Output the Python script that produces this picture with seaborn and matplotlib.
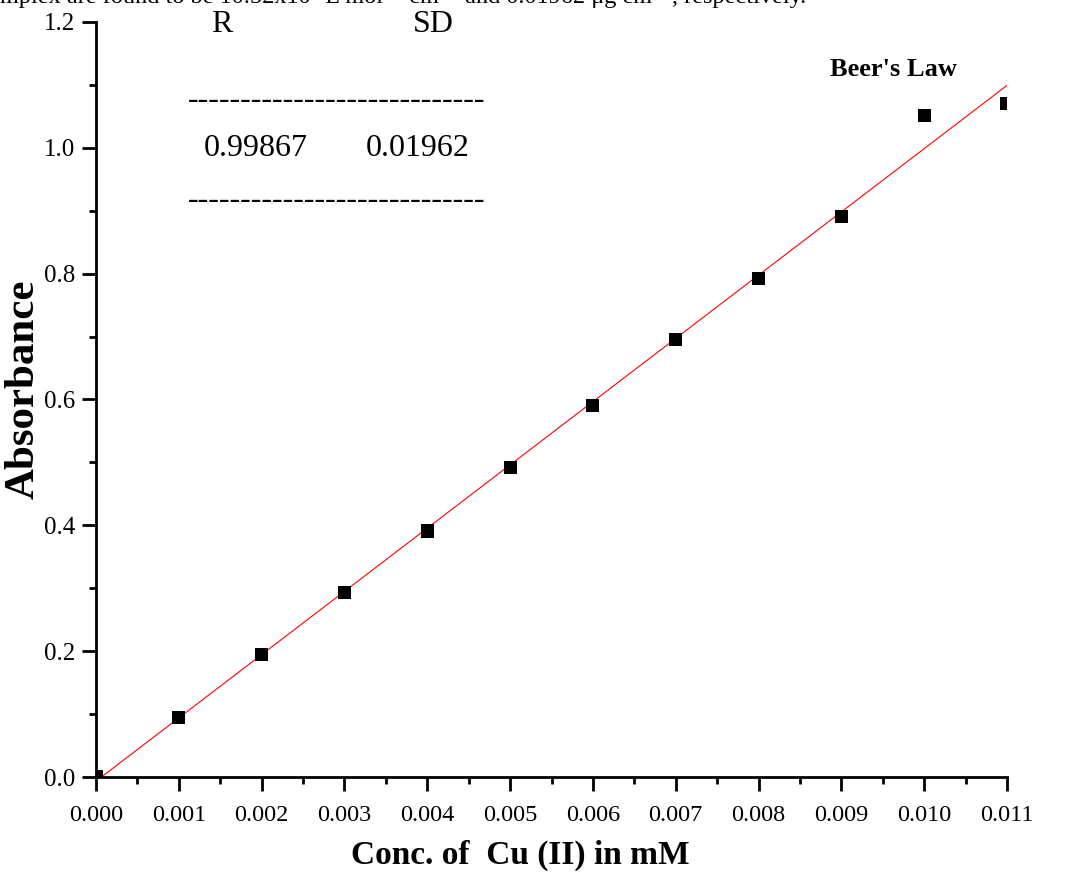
import numpy as np
import pandas as pd
import matplotlib
matplotlib.use("Agg")
import matplotlib.pyplot as plt
import seaborn as sns
from matplotlib.ticker import MultipleLocator, FormatStrFormatter

conc = [0.000, 0.001, 0.002, 0.003, 0.004, 0.005, 0.006, 0.007, 0.008, 0.009, 0.010, 0.011]
absorb = [0.0, 0.095, 0.195, 0.293, 0.391, 0.492, 0.591, 0.695, 0.792, 0.891, 1.051, 1.070]
stat_headers = ["R", "SD"]
stat_values = ["0.99867", "0.01962"]
title_text = "Beer's Law"
x_label = "Conc. of  Cu (II) in mM"
y_label = "Absorbance"
top_text = "mplex are found to be 10.52x10\u2074 L mol\u207b\u00b9 cm\u207b\u00b9 and 0.01962 \u03bcg cm\u207b\u00b2, respectively."

sns.set_style("ticks")
plt.rcParams['font.family'] = ['Liberation Serif', 'DejaVu Serif']
plt.rcParams['text.color'] = 'black'
plt.rcParams['axes.labelcolor'] = 'black'
plt.rcParams['xtick.color'] = 'black'
plt.rcParams['ytick.color'] = 'black'

df = pd.DataFrame({"conc": conc, "abs": absorb})

fig = plt.figure(figsize=(10.66, 8.77), dpi=100)
ax = fig.add_axes([96/1066, 1-777/877, (1007-96)/1066, (777-22)/877])

sns.regplot(data=df, x="conc", y="abs", ax=ax, ci=None, truncate=True,
            marker="s", color="black",
            scatter_kws=dict(s=88, edgecolor="none", alpha=1, zorder=3),
            line_kws=dict(color="red", lw=0.8, zorder=2))

ax.set_xlim(0, 0.011)
ax.set_ylim(0, 1.2)
ax.xaxis.set_major_locator(MultipleLocator(0.001))
ax.xaxis.set_minor_locator(MultipleLocator(0.0005))
ax.yaxis.set_major_locator(MultipleLocator(0.2))
ax.yaxis.set_minor_locator(MultipleLocator(0.1))
ax.xaxis.set_major_formatter(FormatStrFormatter("%.3f"))
ax.yaxis.set_major_formatter(FormatStrFormatter("%.1f"))

for s in ["top", "right"]:
    ax.spines[s].set_visible(False)
for s in ["left", "bottom"]:
    ax.spines[s].set_linewidth(2)
    ax.spines[s].set_color("black")
ax.tick_params(which="major", length=10, width=2, direction="out", colors="black")
ax.tick_params(axis="x", which="major", labelsize=17.5, pad=10)
ax.tick_params(axis="y", which="major", labelsize=18, pad=5)
ax.tick_params(which="minor", length=5, width=2, direction="out")

ax.set_xlabel(x_label, fontsize=24, fontweight="bold")
ax.set_ylabel(y_label, fontsize=31, fontweight="bold")
ax.xaxis.label.set_va("center")
ax.yaxis.label.set_va("center")
ax.xaxis.set_label_coords((520 - 96) / 911, (777 - 855) / 755)
ax.yaxis.set_label_coords((24 - 96) / 911, (777 - 389) / 755)

def fx(px):
    return px / 1066
def fy(py):
    return 1 - py / 877

fig.text(fx(222), fy(24), stat_headers[0], fontsize=23, ha="center", va="center")
fig.text(fx(433), fy(24), stat_headers[1], fontsize=23, ha="center", va="center")
dash = "-" * 28
fig.text(fx(337), fy(100), dash, fontsize=23, ha="center", va="center")
fig.text(fx(256), fy(148), stat_values[0], fontsize=23, ha="center", va="center")
fig.text(fx(418), fy(148), stat_values[1], fontsize=23, ha="center", va="center")
fig.text(fx(337), fy(200), dash, fontsize=23, ha="center", va="center")
fig.text(fx(893), fy(70), title_text, fontsize=19, fontweight="bold", ha="center", va="center")

fig.text(0, fy(3), top_text, fontsize=17.5, ha="left", va="baseline")

fig.savefig("out.png", dpi=100)
